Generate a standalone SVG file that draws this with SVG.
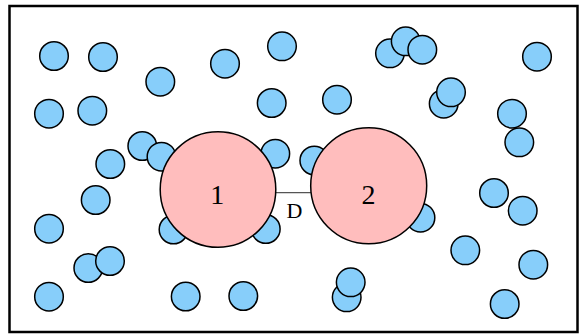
<svg xmlns="http://www.w3.org/2000/svg" width="579" height="335" viewBox="0 0 579 335">
<style>
.s{fill:#87cefa;stroke:#000;stroke-width:1.5}
.b{fill:#ffbdbd;stroke:#000;stroke-width:1.5}
.n{font-family:"Liberation Serif","Times New Roman",serif;font-size:28px;text-anchor:middle;fill:#000}
.d{font-family:"Liberation Serif","Times New Roman",serif;font-size:22px;text-anchor:middle;fill:#000}
</style>
<rect x="9.5" y="6" width="568" height="326" fill="#fff" stroke="#000" stroke-width="2.5"/>
<g id="particles">
<circle class="s" cx="54" cy="56" r="14.3"/>
<circle class="s" cx="103" cy="57" r="14.3"/>
<circle class="s" cx="160.3" cy="81.7" r="14.3"/>
<circle class="s" cx="49" cy="113.7" r="14.3"/>
<circle class="s" cx="92.3" cy="110.7" r="14.3"/>
<circle class="s" cx="142.3" cy="146" r="14.3"/>
<circle class="s" cx="161.5" cy="156.7" r="14.3"/>
<circle class="s" cx="110.3" cy="164" r="14.3"/>
<circle class="s" cx="225" cy="63.7" r="14.3"/>
<circle class="s" cx="282" cy="46.3" r="14.3"/>
<circle class="s" cx="271.7" cy="103" r="14.3"/>
<circle class="s" cx="337" cy="99.7" r="14.3"/>
<circle class="s" cx="275.3" cy="153.7" r="14.3"/>
<circle class="s" cx="314.3" cy="160.5" r="14.3"/>
<circle class="s" cx="390" cy="53.3" r="14.3"/>
<circle class="s" cx="405.7" cy="41.3" r="14.3"/>
<circle class="s" cx="422.3" cy="49.7" r="14.3"/>
<circle class="s" cx="537" cy="56.7" r="14.3"/>
<circle class="s" cx="443.7" cy="103.7" r="14.3"/>
<circle class="s" cx="451" cy="92.3" r="14.3"/>
<circle class="s" cx="512" cy="113.7" r="14.3"/>
<circle class="s" cx="519.3" cy="142.3" r="14.3"/>
<circle class="s" cx="95.7" cy="200" r="14.3"/>
<circle class="s" cx="49" cy="228.7" r="14.3"/>
<circle class="s" cx="88.3" cy="268" r="14.3"/>
<circle class="s" cx="110" cy="261" r="14.3"/>
<circle class="s" cx="49" cy="296.7" r="14.3"/>
<circle class="s" cx="185.7" cy="296.5" r="14.3"/>
<circle class="s" cx="173.5" cy="229.5" r="14.3"/>
<circle class="s" cx="265.8" cy="229" r="14.3"/>
<circle class="s" cx="243.3" cy="296" r="14.3"/>
<circle class="s" cx="346.7" cy="297.3" r="14.3"/>
<circle class="s" cx="350.7" cy="282.3" r="14.3"/>
<circle class="s" cx="494" cy="193" r="14.3"/>
<circle class="s" cx="522.7" cy="210.7" r="14.3"/>
<circle class="s" cx="465.3" cy="250.3" r="14.3"/>
<circle class="s" cx="533.3" cy="264.7" r="14.3"/>
<circle class="s" cx="504.7" cy="304" r="14.3"/>
<circle class="s" cx="420.5" cy="217.7" r="14.3"/>
</g>
<g id="connectors">
<line x1="275" y1="192.7" x2="312" y2="192.7" stroke="#555" stroke-width="1.3"/>
<text class="d" x="294.5" y="217.7">D</text>
</g>
<g id="node1">
<circle class="b" cx="218" cy="189.5" r="57.8"/>
<text class="n" x="217.3" y="204.3">1</text>
</g>
<g id="node2">
<circle class="b" cx="368.7" cy="185.7" r="58"/>
<text class="n" x="368.5" y="204.3">2</text>
</g>
</svg>
